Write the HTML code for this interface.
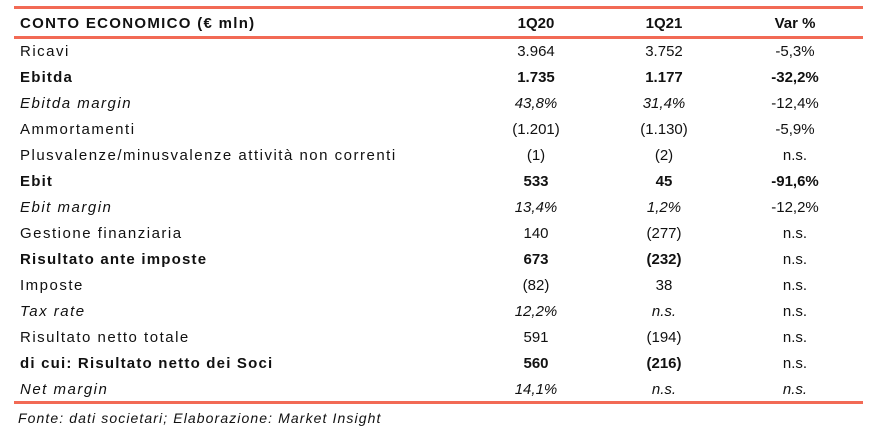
<!DOCTYPE html>
<html><head><style>
body{margin:0;width:878px;height:429px;background:#fff;font-family:"Liberation Sans",sans-serif;color:#111;position:relative;overflow:hidden}
.l{position:absolute;left:14px;width:849px;height:3px;background:#f26a55}
.r{position:absolute;left:0;width:878px;height:26px;font-size:15px;line-height:26px}
.r span{position:absolute;top:0}
.a{left:20px;letter-spacing:1.5px}
.c1,.c2,.c3{width:120px;text-align:center}
.c1{left:476px}.c2{left:604px}.c3{left:735px}
.b{font-weight:bold}.i{font-style:italic}
.b .a{letter-spacing:1.2px}
</style></head><body>
<div class="l" style="top:6px"></div>
<div class="l" style="top:36px"></div>
<div class="l" style="top:401px"></div>
<div class="r b" style="top:11px"><span class="a" style="letter-spacing:1.3px">CONTO ECONOMICO (€ mln)</span><span class="c1">1Q20</span><span class="c2">1Q21</span><span class="c3">Var %</span></div>
<div class="r" style="top:39px"><span class="a">Ricavi</span><span class="c1">3.964</span><span class="c2">3.752</span><span class="c3">-5,3%</span></div>
<div class="r b" style="top:65px"><span class="a">Ebitda</span><span class="c1">1.735</span><span class="c2">1.177</span><span class="c3">-32,2%</span></div>
<div class="r" style="top:91px"><span class="a i">Ebitda margin</span><span class="c1 i">43,8%</span><span class="c2 i">31,4%</span><span class="c3">-12,4%</span></div>
<div class="r" style="top:117px"><span class="a">Ammortamenti</span><span class="c1">(1.201)</span><span class="c2">(1.130)</span><span class="c3">-5,9%</span></div>
<div class="r" style="top:143px"><span class="a">Plusvalenze/minusvalenze attività non correnti</span><span class="c1">(1)</span><span class="c2">(2)</span><span class="c3">n.s.</span></div>
<div class="r b" style="top:169px"><span class="a">Ebit</span><span class="c1">533</span><span class="c2">45</span><span class="c3">-91,6%</span></div>
<div class="r" style="top:195px"><span class="a i">Ebit margin</span><span class="c1 i">13,4%</span><span class="c2 i">1,2%</span><span class="c3">-12,2%</span></div>
<div class="r" style="top:221px"><span class="a">Gestione finanziaria</span><span class="c1">140</span><span class="c2">(277)</span><span class="c3">n.s.</span></div>
<div class="r b" style="top:247px"><span class="a">Risultato ante imposte</span><span class="c1">673</span><span class="c2">(232)</span><span class="c3" style="font-weight:normal">n.s.</span></div>
<div class="r" style="top:273px"><span class="a">Imposte</span><span class="c1">(82)</span><span class="c2">38</span><span class="c3">n.s.</span></div>
<div class="r" style="top:299px"><span class="a i">Tax rate</span><span class="c1 i">12,2%</span><span class="c2 i">n.s.</span><span class="c3">n.s.</span></div>
<div class="r" style="top:325px"><span class="a">Risultato netto totale</span><span class="c1">591</span><span class="c2">(194)</span><span class="c3">n.s.</span></div>
<div class="r b" style="top:351px"><span class="a">di cui: Risultato netto dei Soci</span><span class="c1">560</span><span class="c2">(216)</span><span class="c3" style="font-weight:normal">n.s.</span></div>
<div class="r i" style="top:377px"><span class="a">Net margin</span><span class="c1">14,1%</span><span class="c2">n.s.</span><span class="c3">n.s.</span></div>
<div class="r i" style="top:405px;font-size:14px"><span class="a" style="left:18px;letter-spacing:1.1px">Fonte: dati societari; Elaborazione: Market Insight</span></div>
</body></html>
